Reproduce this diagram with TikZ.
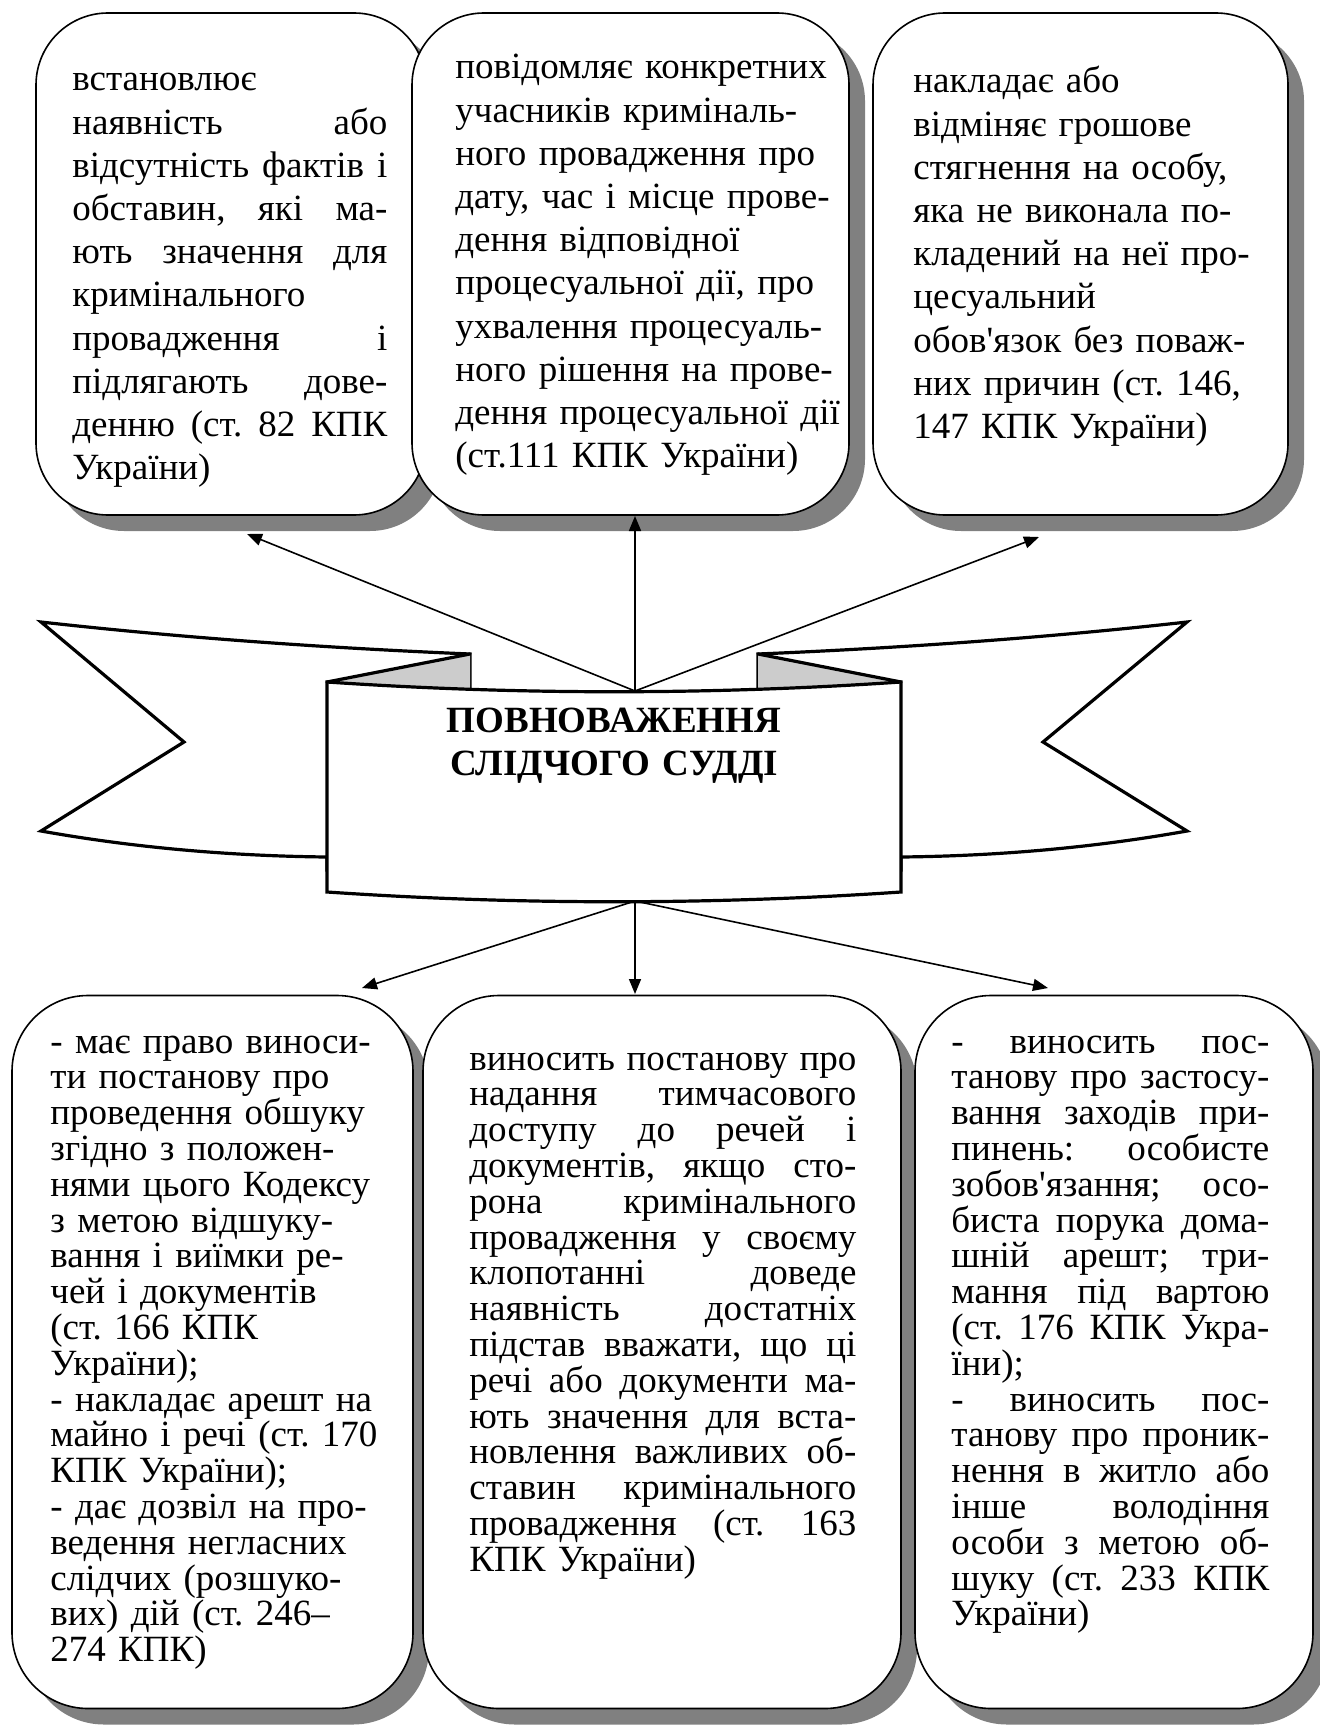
\documentclass[tikz,border=0pt]{standalone}
\usepackage{fontspec}
\setmainfont{Liberation Serif}[Ligatures=TeXOff]
\usetikzlibrary{arrows.meta,shadows}
\definecolor{shadowgray}{RGB}{128,128,128}
\definecolor{foldgray}{RGB}{204,204,204}
\newlength\jw
\newcommand{\jline}[1]{\leavevmode\hbox to\jw{\spaceskip=\fontdimen2\font plus 1fil\relax #1}}
\frenchspacing
\tikzset{
  card/.style={draw=black, line width=0.8pt, fill=white, rounded corners=36pt, inner sep=0pt,
    drop shadow={shadow xshift=8pt, shadow yshift=-8pt, opacity=1, fill=shadowgray}},
  toptext/.style={anchor=base west, inner sep=0pt, align=left,
    font=\fontsize{18.5pt}{21.6pt}\selectfont},
  lowtext/.style={anchor=base west, inner sep=0pt, align=left,
    font=\fontsize{18.5pt}{17.9pt}\selectfont},
  band/.style={draw=black, line width=1.6pt, fill=white, line join=miter},
  foldedge/.style={draw=black, line width=1.6pt, line cap=round},
  link/.style={draw=black, line width=0.8pt, -{Triangle[length=7.5pt,width=6pt]}},
  title/.style={anchor=base, inner sep=0pt, align=center, text width=220pt,
    font=\bfseries\fontsize{18.5pt}{21.6pt}\selectfont}
}
\begin{document}
\begin{tikzpicture}[x=0.5pt,y=-0.5pt]
\useasboundingbox (0,0) rectangle (1319,1733);
\fill[white] (0,0) rectangle (1319,1733);

% ---------- top boxes ----------
\node[card, minimum width=195pt, minimum height=251pt] (b1) at (231,264) {};
\node[toptext, text width=157.5pt] (t1) at (72,91) {\setlength\jw{157.5pt}%
встановлює\\
\jline{наявність або}\\
\jline{відсутність фактів і}\\
\jline{обставин, які ма-}\\
\jline{ють значення для}\\
кримінального\\
\jline{провадження і}\\
\jline{підлягають дове-}\\
\jline{денню (ст. 82 КПК}\\
України)};

\node[card, minimum width=218.5pt, minimum height=251pt] (b2) at (630.5,264) {};
\node[toptext, text width=200pt] (t2) at (455,79) {%
повідомляє конкретних\\
учасників криміналь-\\
ного провадження про\\
дату, час і місце прове-\\
дення відповідної\\
процесуальної дії, про\\
ухвалення процесуаль-\\
ного рішення на прове-\\
дення процесуальної дії\\
(ст.111 КПК України)};

\node[card, minimum width=207.5pt, minimum height=251pt] (b3) at (1080.5,264) {};
\node[toptext, text width=180pt] (t3) at (913,93) {%
накладає або\\
відміняє грошове\\
стягнення на особу,\\
яка не виконала по-\\
кладений на неї про-\\
цесуальний\\
обов'язок без поваж-\\
них причин (ст. 146,\\
147 КПК України)};

% ---------- bottom boxes ----------
\node[card, minimum width=200.5pt, minimum height=356.5pt, rounded corners=38pt] (b4) at (212.5,1352) {};
\node[lowtext, text width=190pt] (t4) at (50,1053) {%
- має право виноси-\\
ти постанову про\\
проведення обшуку\\
згідно з положен-\\
нями цього Кодексу\\
з метою відшуку-\\
вання і виїмки ре-\\
чей і документів\\
(ст. 166 КПК\\
України);\\
- накладає арешт на\\
майно і речі (ст. 170\\
КПК України);\\
- дає дозвіл на про-\\
ведення негласних\\
слідчих (розшуко-\\
вих) дій (ст. 246–\\
274 КПК)};

\node[card, minimum width=239pt, minimum height=356.5pt, rounded corners=38pt] (b5) at (662,1352) {};
\node[lowtext, text width=193.5pt] (t5) at (469,1070) {\setlength\jw{193.5pt}%
\jline{виносить постанову про}\\
\jline{надання тимчасового}\\
\jline{доступу до речей і}\\
\jline{документів, якщо сто-}\\
\jline{рона кримінального}\\
\jline{провадження у своєму}\\
\jline{клопотанні доведе}\\
\jline{наявність достатніх}\\
\jline{підстав вважати, що ці}\\
\jline{речі або документи ма-}\\
\jline{ють значення для вста-}\\
\jline{новлення важливих об-}\\
\jline{ставин кримінального}\\
\jline{провадження (ст. 163}\\
КПК України)};

\node[card, minimum width=199pt, minimum height=356.5pt, rounded corners=38pt] (b6) at (1114,1352) {};
\node[lowtext, text width=159pt] (t6) at (951,1053) {\setlength\jw{159pt}%
\jline{- виносить пос-}\\
\jline{танову про застосу-}\\
\jline{вання заходів при-}\\
\jline{пинень: особисте}\\
\jline{зобов'язання; осо-}\\
\jline{биста порука дома-}\\
\jline{шній арешт; три-}\\
\jline{мання під вартою}\\
\jline{(ст. 176 КПК Укра-}\\
їни);\\
\jline{- виносить пос-}\\
\jline{танову про проник-}\\
\jline{нення в житло або}\\
\jline{інше володіння}\\
\jline{особи з метою об-}\\
\jline{шуку (ст. 233 КПК}\\
України)};

% ---------- ribbon ----------
% left tail
\draw[band] (41,622) .. controls (184,638) and (327,648) .. (470,654)
  -- (470,870) -- (327,870) -- (327,857)
  .. controls (232,856) and (136,848) .. (41,831) -- (184,742) -- cycle;
% right tail
\draw[band] (1187,622) .. controls (1044,638) and (901,648) .. (758,654)
  -- (758,870) -- (901,870) -- (901,857)
  .. controls (996,856) and (1092,848) .. (1187,831) -- (1043,742) -- cycle;
% folds
\fill[foldgray] (470,654) -- (327,682) -- (470,697) -- cycle;
\draw[foldedge] (327,682) -- (470,654);
\fill[foldgray] (758,654) -- (901,682) -- (758,697) -- cycle;
\draw[foldedge] (901,682) -- (758,654);
% panel
\draw[band] (327,682) .. controls (518,695) and (710,695) .. (901,682)
  -- (901,892) .. controls (710,905) and (518,905) .. (327,892) -- cycle;
\node[title] (ttl) at (614,732) {ПОВНОВАЖЕННЯ\\СЛІДЧОГО СУДДІ};

% ---------- connectors ----------
\coordinate (hubT) at (635,691);
\coordinate (hubB) at (635,901);
\coordinate (e1) at (247,534);
\coordinate (e2) at (635,516);
\coordinate (e3) at (1039,537);
\coordinate (e4) at (362,988);
\coordinate (e5) at (635,994);
\coordinate (e6) at (1048,988);
\draw[link] (hubT) -- (e1);
\draw[link] (hubT) -- (e2);
\draw[link] (hubT) -- (e3);
\draw[link] (hubB) -- (e4);
\draw[link] (hubB) -- (e5);
\draw[link] (hubB) -- (e6);
\end{tikzpicture}
\end{document}
